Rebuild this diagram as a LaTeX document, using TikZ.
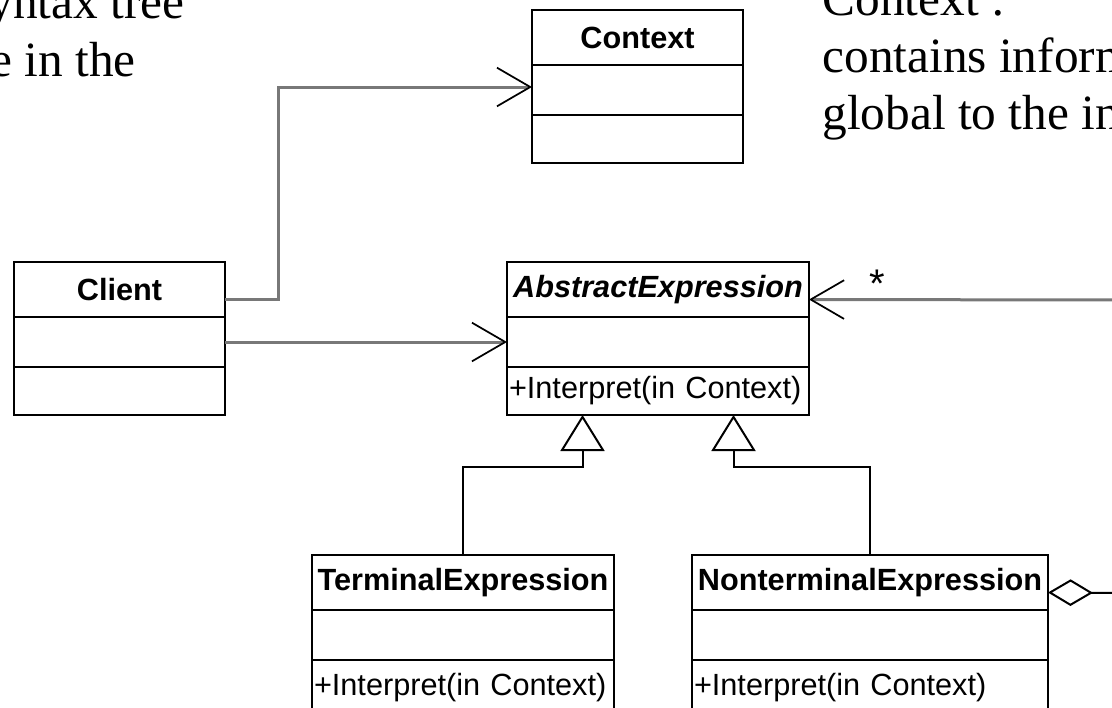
\documentclass[tikz,border=0pt]{standalone}
\usepackage{fontspec}
\setmainfont{Liberation Serif}
\setsansfont{Liberation Sans}
\usetikzlibrary{arrows.meta,calc}

\definecolor{linkgray}{RGB}{120,120,120}

\tikzset{every picture/.style={line width=0.75pt}}
\tikzset{
  classpart/.style={draw, line width=1.5pt, inner sep=0pt, outer sep=0pt, anchor=north west,
    font=\sffamily\fontsize{23}{28}\selectfont},
  titlepart/.style={classpart, minimum height=41.25pt, font=\sffamily\bfseries\fontsize{23}{28}\selectfont},
  attrpart/.style={classpart, minimum height=37.5pt},
  oppart/.style={classpart, minimum height=36pt, align=left, inner xsep=1.5pt, text width=#1},
  slide/.style={anchor=base west, inner sep=0pt, font=\rmfamily\fontsize{37}{44}\selectfont},
  assoc/.style={draw=linkgray, line width=2.25pt,
    -{Straight Barb[length=25pt, width=29pt, line width=1.3pt, color=black]}},
  inherit/.style={line width=1.5pt, -{Triangle[open, length=27pt, width=33pt, line width=1.5pt]}},
  aggr/.style={line width=1.5pt, {Diamond[open, length=33.75pt, width=20pt, line width=1.5pt]}-}
}

\begin{document}
\begin{tikzpicture}[x=0.75pt,y=0.75pt,yscale=-1,xscale=1]
\useasboundingbox (0,0) rectangle (1112,707);
\clip (0,0) rectangle (1112,707);

% Text Node
\node[slide] (note-l1) at (-12,18) {yntax tree};
\node[slide] (note-l2) at (-10,76) {e in the};
\node[slide] (note-r1) at (822,15) {Context :};
\node[slide] (note-r2) at (822,72) {contains inform};
\node[slide] (note-r3) at (822,129) {global to the in};

%Class: Context
\node[titlepart, minimum width=158.25pt] (ctx) at (532,10) {Context};
\node[attrpart, minimum width=158.25pt] (ctx-a) at (ctx.south west) {};
\node[attrpart, minimum width=158.25pt, minimum height=36pt] (ctx-o) at (ctx-a.south west) {};

%Class: Client
\node[titlepart, minimum width=158.25pt] (cli) at (14,262) {Client};
\node[attrpart, minimum width=158.25pt] (cli-a) at (cli.south west) {};
\node[attrpart, minimum width=158.25pt, minimum height=36pt] (cli-o) at (cli-a.south west) {};

%Class: AbstractExpression
\node[titlepart, minimum width=226.5pt] (ae) at (507,262) {\itshape AbstractExpression};
\node[attrpart, minimum width=226.5pt] (ae-a) at (ae.south west) {};
\node[oppart=223.5pt] (ae-o) at (ae-a.south west) {+Interpret(in Context)};

%Class: TerminalExpression
\node[titlepart, minimum width=226.5pt] (te) at (312,555) {TerminalExpression};
\node[attrpart, minimum width=226.5pt] (te-a) at (te.south west) {};
\node[oppart=223.5pt, minimum height=42pt] (te-o) at (te-a.south west) {+Interpret(in Context)};

%Class: NonterminalExpression
\node[titlepart, minimum width=267pt] (nt) at (692,555) {NonterminalExpression};
\node[attrpart, minimum width=267pt] (nt-a) at (nt.south west) {};
\node[oppart=264pt, minimum height=42pt] (nt-o) at (nt-a.south west) {+Interpret(in Context)};

%Straight Lines
\draw[assoc] ([yshift=7.5pt]cli.east) -- ++(53,0) |- ([yshift=-2.25pt]ctx-a.west);
\draw[assoc] (cli-a.east) -- (ae-a.west);

\coordinate (agg-top) at (1120,300);
\draw[assoc] (agg-top) -- ([yshift=7.5pt]ae.east);
\node[font=\sffamily\fontsize{30}{36}\selectfont, inner sep=0pt] (mult) at (877,284) {*};

\coordinate (gen-l) at ($(ae-o.south west)!0.25!(ae-o.south east)$);
\coordinate (gen-r) at ($(ae-o.south west)!0.75!(ae-o.south east)$);
\draw[inherit] (te.north) -- ++(0,-88) -| (gen-l);
\draw[inherit] (nt.north) -- ++(0,-88) -| (gen-r);

\coordinate (agg-low) at (1120,593);
\draw[aggr] ([yshift=7.5pt]nt.east) -- (agg-low);

\end{tikzpicture}
\end{document}
